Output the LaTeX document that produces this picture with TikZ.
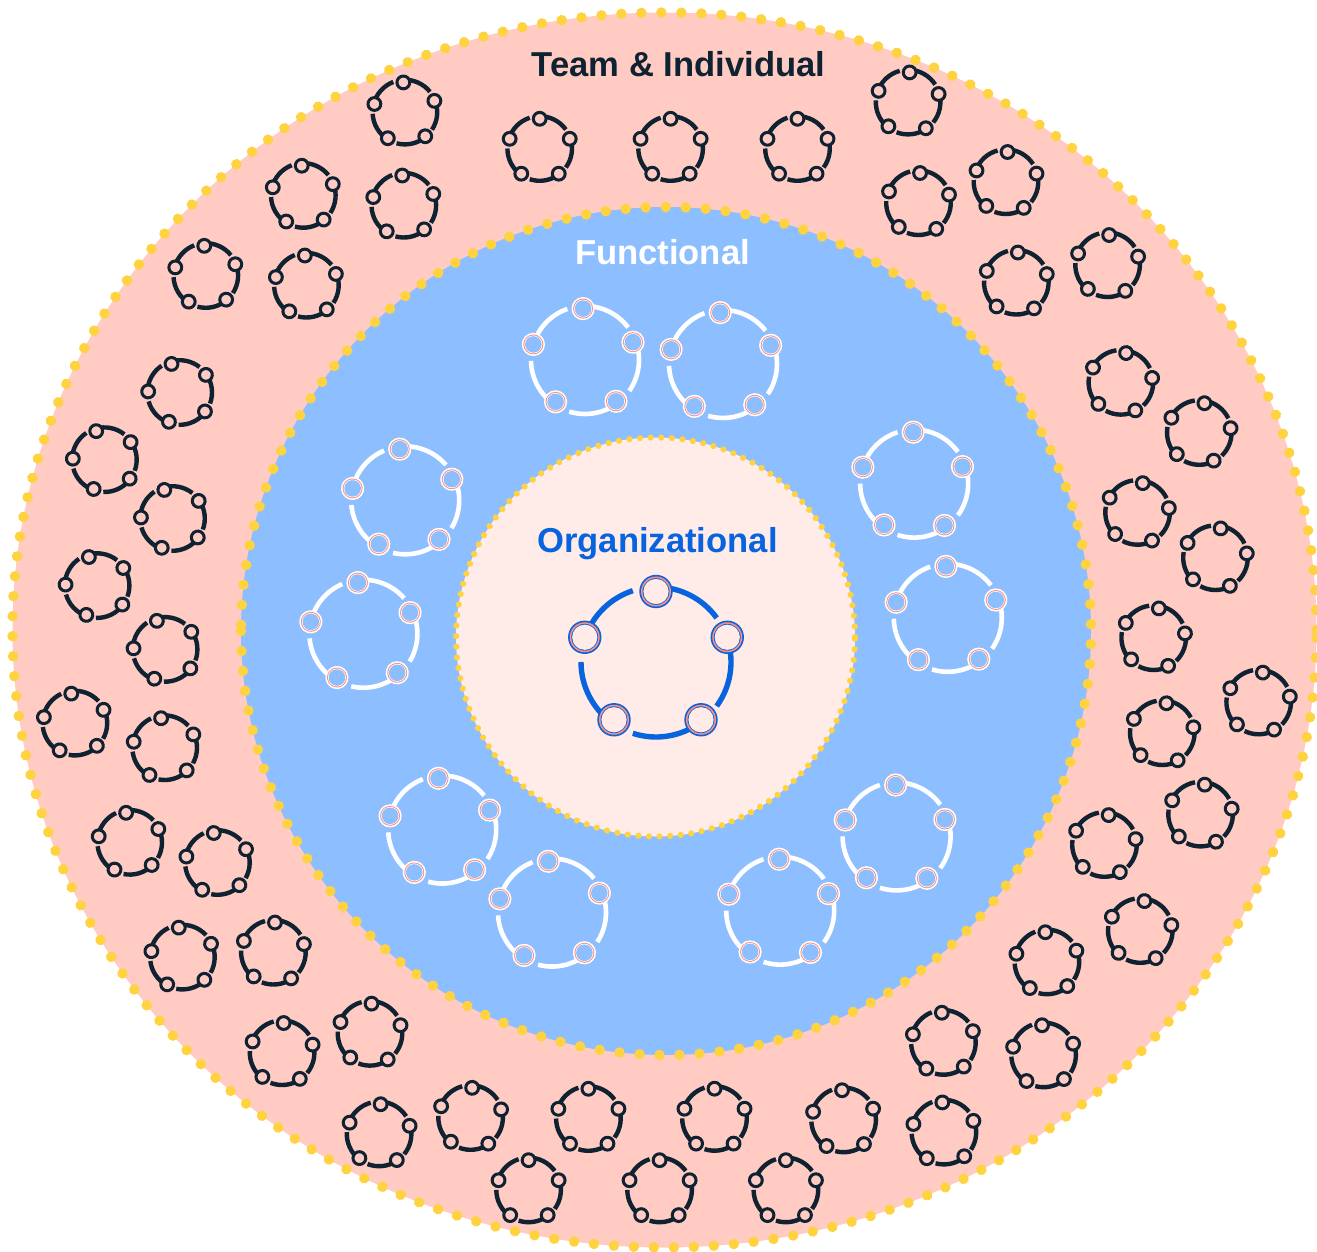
\documentclass[tikz,border=0pt]{standalone}
\usepackage{fontspec}
\setmainfont{Liberation Sans}
\definecolor{ringpink}{HTML}{FFCBC2}
\definecolor{ringblue}{HTML}{8DBEFF}
\definecolor{ringpale}{HTML}{FFECE9}
\definecolor{dotyellow}{HTML}{FFD23F}
\definecolor{inkdark}{HTML}{0F2231}
\definecolor{inkblue}{HTML}{0863DF}
\definecolor{salmon}{HTML}{FF8F7A}
\tikzset{
  x=1pt,y=1pt,
  dotline/.style={draw=dotyellow,line cap=round,line width=#1},
  label text/.style={font=\bfseries\fontsize{34.6}{36}\selectfont,anchor=base,inner sep=0pt},
}
% #1 centre x, #2 centre y (image pixels), #3 clockwise rotation
\newcommand{\smallicon}[3]{%
  \begin{scope}[shift={(#1,-#2)},rotate=-#3]
    \foreach \a in {0,72,...,288}
      \draw[inkdark,line width=4.4] ({90-\a}:32.3) arc[start angle={90-\a},end angle={36-\a},radius=32.3];
    \foreach \px/\py in {0/.92,.93/.30,.59/-.78,-.57/-.78,-.93/.30}
      \draw[inkdark,line width=3,fill=ringpink] (\px*32.3,\py*32.3) circle[radius=6.4];
  \end{scope}}
\newcommand{\midicon}[3]{%
  \begin{scope}[shift={(#1,-#2)},rotate=-#3]
    \foreach \a in {0,72,...,288}
      \draw[white,line width=4.6] (1,0) ++({90-\a}:54) arc[start angle={90-\a},end angle={36-\a},radius=54];
    \foreach \px/\py in {0/.97,.93/.32,.59/-.79,-.55/-.78,-.95/.31}{
      \fill[white] (\px*53,\py*53) circle[radius=11.6];
      \fill[salmon] (\px*53,\py*53) circle[radius=10];
      \fill[white] (\px*53,\py*53) circle[radius=9];
      \fill[ringblue] (\px*53,\py*53) circle[radius=8.3];}
  \end{scope}}
\newcommand{\bigicon}[2]{%
  \begin{scope}[shift={(#1,-#2)}]
    \foreach \a in {0,72,...,288}
      \draw[inkblue,line width=5.4] ({90-\a}:75) arc[start angle={90-\a},end angle={36-\a},radius=75];
    \foreach \px/\py in {0/.94,.95/.33,.60/-.77,-.56/-.77,-.95/.33}{
      \fill[inkblue] (\px*75,\py*75) circle[radius=16.7];
      \fill[salmon] (\px*75,\py*75) circle[radius=15];
      \fill[inkblue] (\px*75,\py*75) circle[radius=13.4];
      \fill[ringpale] (\px*75,\py*75) circle[radius=12.6];}
  \end{scope}}
\begin{document}
\begin{tikzpicture}
\useasboundingbox (0,0) rectangle (1317,-1252);
% bands
\fill[ringpink] (664.5,-630) ellipse[x radius=652,y radius=617.5];
\draw[dotline=10.5,dash pattern=on 0.01pt off 20pt] (664.5,-630) ellipse[x radius=652,y radius=617.5];
\fill[ringblue] (666,-631) ellipse[x radius=425,y radius=424];
\draw[dotline=10.5,dash pattern=on 0.01pt off 20pt,rotate around={180:(666,-631)}] (666,-631) ellipse[x radius=425,y radius=424];
\fill[ringpale] (655.5,-637) circle[radius=199.5];
\draw[dotline=6.2,dash pattern=on 0.01pt off 10.6pt] (655.5,-637) circle[radius=199.5];
% labels
\node[label text,text=inkdark] (team) at (678.5,-77) {Team \& Individual};
\node[label text,text=white] (func) at (662.5,-265) {Functional};
\node[label text,text=inkblue] (org) at (657.5,-552) {Organizational};
% large icon
\bigicon{656}{662}
% medium icons
\midicon{584}{360}{-1}
\midicon{722}{364}{-2}
\midicon{913.2}{483.6}{0}
\midicon{946.8}{617.8}{-1}
\midicon{404.2}{500.4}{-5}
\midicon{362.4}{633.8}{-5}
\midicon{441.2}{829.6}{-3}
\midicon{551}{912.6}{-3}
\midicon{779.2}{910.6}{0}
\midicon{895.6}{836.4}{0}
% small icons
\foreach \cx/\cy/\rot in {
  539.7/148.5/0, 670.6/148.5/0, 797.5/148.5/0,
  908.1/102.1/3, 1006/181.7/3, 918.5/202.7/3, 1016.3/282.2/3, 1107.6/264.7/3,
  1120.9/382.3/10, 1199.3/432.5/10, 1137.6/512.4/10, 1215.5/557.7/10, 1153.7/637.7/10,
  1258.7/702/8, 1162.3/732.7/8, 1200.6/814.1/8, 1104.5/844.5/8, 1140.3/930.5/8,
  1046.9/961.9/-3, 943.4/1042.4/-3, 1043.6/1054.9/-3, 843.6/1119.9/-3, 943.9/1132.1/-3,
  379.1/1133.9/3, 470.6/1117.5/3, 588.4/1118.5/0, 714.5/1118.4/0,
  528.6/1189.9/0, 659.6/1189.9/0, 785.9/1189.9/0,
  217.4/862.5/-7, 182.4/957.1/-7, 273.4/952.2/3, 282.1/1052.7/3, 370/1033.3/3,
  97.1/585.6/-16, 165.1/649.4/-16, 74.9/723.1/-7, 164.7/747.7/-7, 129.7/842.3/-7,
  179.7/392.5/-16, 104.4/459.7/-16, 172.5/518.5/-16,
  404.9/112.1/-3, 303.3/195.4/-3, 403.8/205.2/-3, 205.8/275.5/-3, 306.4/285.2/-3}
  {\smallicon{\cx}{\cy}{\rot}}
\end{tikzpicture}
\end{document}
